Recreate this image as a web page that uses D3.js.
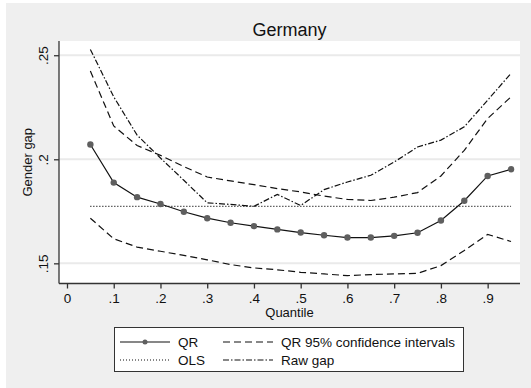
<!DOCTYPE html>
<html>
<head>
<meta charset="utf-8">
<script src="https://cdn.jsdelivr.net/npm/d3@7"></script>
<style>
  html, body { margin: 0; padding: 0; background: #ffffff; }
  svg { display: block; font-family: "Liberation Sans", Arial, sans-serif; }
</style>
</head>
<body>
<svg id="chart" width="531" height="388"></svg>
<script>
// Quantile regression estimates of the gender gap, Germany
const quantiles = [0.05, 0.10, 0.15, 0.20, 0.25, 0.30, 0.35, 0.40, 0.45, 0.50,
                   0.55, 0.60, 0.65, 0.70, 0.75, 0.80, 0.85, 0.90, 0.95];
const qr = [0.2071, 0.1888, 0.1818, 0.1785, 0.1748, 0.1717, 0.1695, 0.1679, 0.1663, 0.1648,
            0.1635, 0.1624, 0.1624, 0.1632, 0.1647, 0.1706, 0.1801, 0.1920, 0.1952];
const ciUpper = [0.2424, 0.2160, 0.2066, 0.2019, 0.1965, 0.1915, 0.1896, 0.1878, 0.1859, 0.1843,
                 0.1823, 0.1807, 0.1802, 0.1818, 0.1840, 0.1920, 0.2043, 0.2196, 0.2300];
const ciLower = [0.1717, 0.1618, 0.1578, 0.1558, 0.1538, 0.1517, 0.1494, 0.1478, 0.1469, 0.1457,
                 0.1449, 0.1441, 0.1446, 0.1449, 0.1452, 0.1489, 0.1562, 0.1639, 0.1605];
const rawGap = [0.2528, 0.2300, 0.2116, 0.2006, 0.1899, 0.1791, 0.1783, 0.1774, 0.1831, 0.1778,
                0.1854, 0.1891, 0.1923, 0.1987, 0.2059, 0.2092, 0.2156, 0.2284, 0.2413];
const ols = 0.1774;
const xTicks = [0, 0.1, 0.2, 0.3, 0.4, 0.5, 0.6, 0.7, 0.8, 0.9];
const yTicks = [0.15, 0.2, 0.25];
const tickFmt = v => v === 0 ? "0" : String(v).replace(/^0/, "");

const svg = d3.select("#chart");

// outer panel
svg.append("rect").attr("x", 6).attr("y", 3).attr("width", 525).attr("height", 385)
  .attr("fill", "#efefef");

const plot = { left: 59, right: 520, top: 41, bottom: 283.5 };

const x = d3.scaleLinear().domain([-0.0171, 0.9692]).range([plot.left, plot.right]);
const y = d3.scaleLinear().domain([0.14031, 0.25684]).range([plot.bottom, plot.top]);

svg.append("rect")
  .attr("x", plot.left).attr("y", plot.top)
  .attr("width", plot.right - plot.left).attr("height", plot.bottom - plot.top)
  .attr("fill", "#ffffff");

// horizontal grid
svg.append("g").selectAll("line").data(yTicks).join("line")
  .attr("x1", plot.left).attr("x2", plot.right)
  .attr("y1", d => y(d)).attr("y2", d => y(d))
  .attr("stroke", "#eaeaea").attr("stroke-width", 2);

// axes
const xAxis = svg.append("g").attr("transform", `translate(0,${plot.bottom})`)
  .call(d3.axisBottom(x).tickValues(xTicks).tickFormat(tickFmt).tickSize(5).tickPadding(4));
const yAxis = svg.append("g").attr("transform", `translate(${plot.left},0)`)
  .call(d3.axisLeft(y).tickValues(yTicks).tickFormat(tickFmt).tickSize(5).tickPadding(4));

[xAxis, yAxis].forEach(g => {
  g.select(".domain").attr("stroke", "#333").attr("stroke-width", 1.3);
  g.selectAll(".tick line").attr("stroke", "#333").attr("stroke-width", 1.3);
  g.selectAll(".tick text").attr("fill", "#111").style("font-size", "13.5px")
    .style("font-family", "\"Liberation Sans\", Arial, sans-serif");
});
yAxis.select(".domain").attr("d", `M0,${plot.top}V${plot.bottom}`);
xAxis.select(".domain").attr("d", `M${plot.left},0H${plot.right}`);
xAxis.selectAll(".tick text").attr("dy", "0.75em").attr("y", 9);
yAxis.selectAll(".tick text")
  .attr("x", null).attr("dy", null)
  .attr("text-anchor", "middle")
  .attr("transform", "translate(-11,0) rotate(-90)")
  .attr("y", 0);

// titles
svg.append("text").attr("x", (plot.left + plot.right) / 2).attr("y", 36)
  .attr("text-anchor", "middle").attr("fill", "#111").style("font-size", "18px").text("Germany");
svg.append("text").attr("x", (plot.left + plot.right) / 2).attr("y", 317)
  .attr("text-anchor", "middle").attr("fill", "#111").style("font-size", "13px").text("Quantile");
svg.append("text")
  .attr("transform", `translate(32,${(plot.top + plot.bottom) / 2}) rotate(-90)`)
  .attr("text-anchor", "middle").attr("fill", "#111").style("font-size", "13px").text("Gender gap");

const line = vals => d3.line().x((d, i) => x(quantiles[i])).y(d => y(d))(vals);
const styles = {
  qr:   { dash: null },
  ci:   { dash: "7,4" },
  raw:  { dash: "6,2,1.5,2" },
  ols:  { dash: "1,2" }
};

const g = svg.append("g").attr("fill", "none").attr("stroke", "#111").attr("stroke-width", 1.2);
g.append("path").attr("d", line(ciUpper)).attr("stroke-dasharray", styles.ci.dash);
g.append("path").attr("d", line(ciLower)).attr("stroke-dasharray", styles.ci.dash);
g.append("path").attr("d", line(rawGap)).attr("stroke-dasharray", styles.raw.dash);
g.append("line")
  .attr("x1", x(quantiles[0])).attr("x2", x(quantiles[quantiles.length - 1]))
  .attr("y1", y(ols)).attr("y2", y(ols))
  .attr("stroke-dasharray", styles.ols.dash);
g.append("path").attr("d", line(qr));
svg.append("g").selectAll("circle").data(qr).join("circle")
  .attr("cx", (d, i) => x(quantiles[i])).attr("cy", d => y(d)).attr("r", 3.2)
  .attr("fill", "#5f5f5f");

// legend
const lg = svg.append("g");
lg.append("rect").attr("x", 114.5).attr("y", 327.5).attr("width", 349).attr("height", 44)
  .attr("fill", "#ffffff").attr("stroke", "#333").attr("stroke-width", 1);
const items = [
  { x: 120, y: 342, label: "QR", key: "qr", marker: true },
  { x: 223, y: 342, label: "QR 95% confidence intervals", key: "ci" },
  { x: 120, y: 360, label: "OLS", key: "ols" },
  { x: 223, y: 360, label: "Raw gap", key: "raw" }
];
items.forEach(it => {
  lg.append("line").attr("x1", it.x).attr("x2", it.x + 50).attr("y1", it.y).attr("y2", it.y)
    .attr("stroke", "#111").attr("stroke-width", 1.2)
    .attr("stroke-dasharray", styles[it.key].dash);
  if (it.marker) {
    lg.append("circle").attr("cx", it.x + 25).attr("cy", it.y).attr("r", 2.5).attr("fill", "#5f5f5f");
  }
  lg.append("text").attr("x", it.x + 58).attr("y", it.y).attr("dy", "0.35em")
    .attr("fill", "#111").style("font-size", "13.5px").text(it.label);
});
</script>
</body>
</html>
